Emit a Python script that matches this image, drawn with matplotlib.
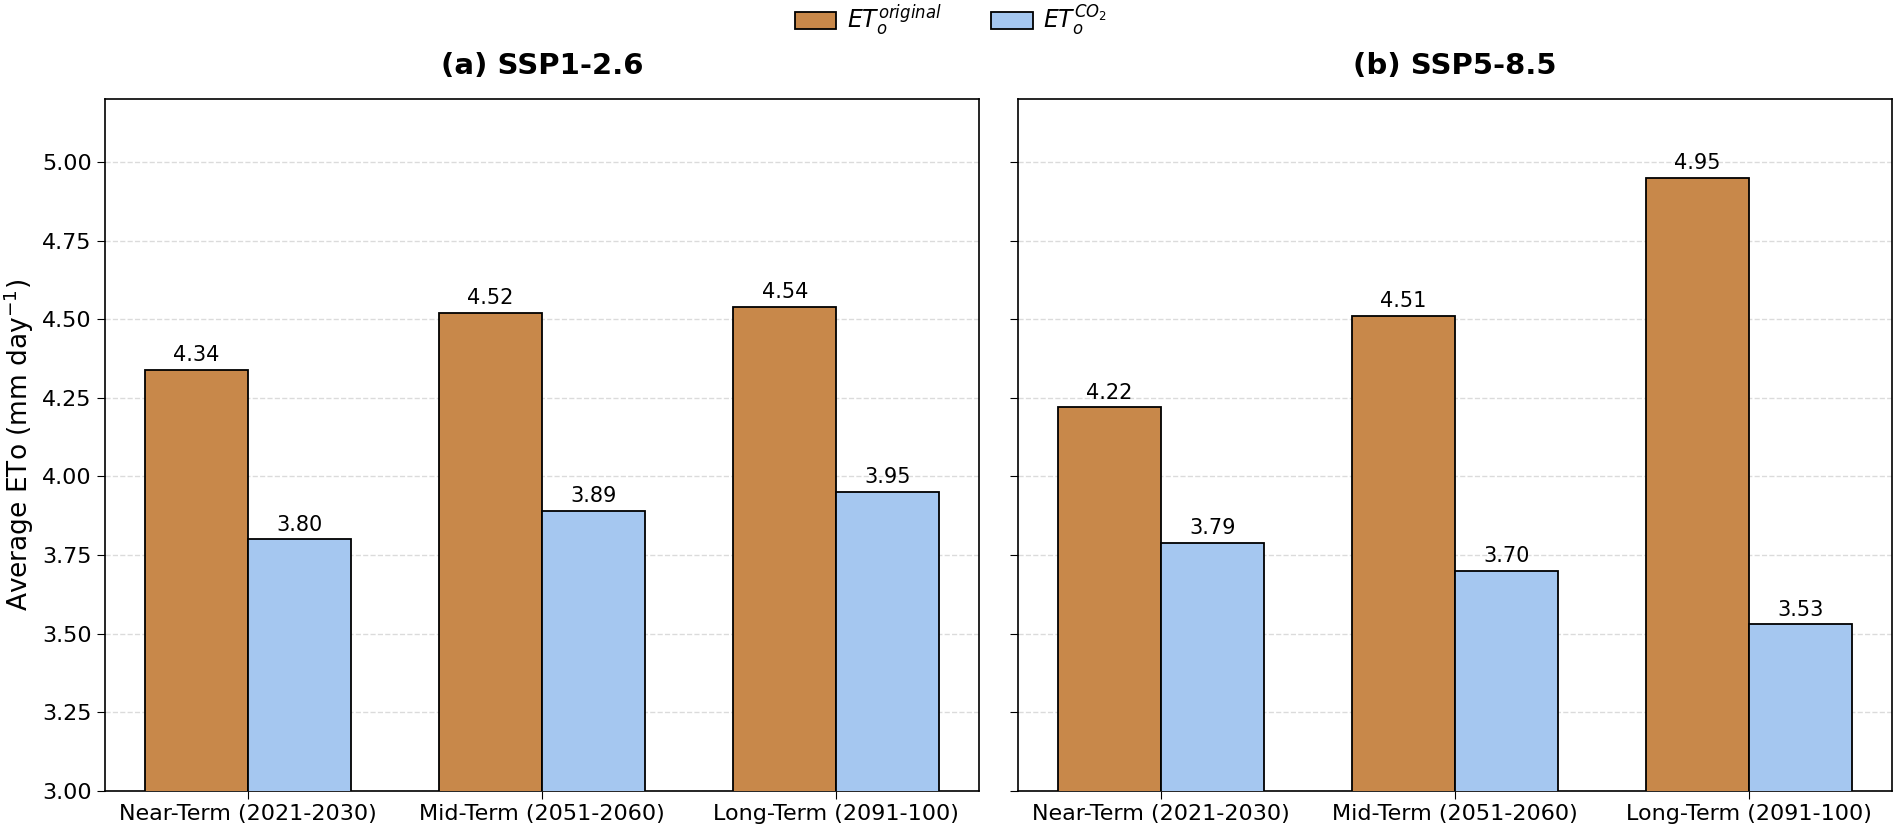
import matplotlib.pyplot as plt
import numpy as np

periods = ['Near-Term (2021-2030)', 'Mid-Term (2051-2060)', 'Long-Term (2091-100)']
titles = ['(a) SSP1-2.6', '(b) SSP5-8.5']
eto_original = [[4.34, 4.52, 4.54], [4.22, 4.51, 4.95]]
eto_co2 = [[3.80, 3.89, 3.95], [3.79, 3.70, 3.53]]

c_orig = '#c8884a'
c_co2 = '#a5c7f0'
width = 0.35

fig = plt.figure(figsize=(19.02, 8.33), dpi=100)
ax1 = fig.add_axes([0.0552, 0.0505, 0.4595, 0.8305])
ax2 = fig.add_axes([0.5352, 0.0505, 0.4595, 0.8305], sharey=ax1)
axs = [ax1, ax2]

x = np.arange(len(periods))
for i, ax in enumerate(axs):
    b1 = ax.bar(x - width / 2, eto_original[i], width, color=c_orig, edgecolor='black',
                linewidth=1.3, label=r'$ET_o^{original}$', zorder=3)
    b2 = ax.bar(x + width / 2, eto_co2[i], width, color=c_co2, edgecolor='black',
                linewidth=1.3, label=r'$ET_o^{CO_2}$', zorder=3)
    for bars in (b1, b2):
        for rect in bars:
            h = rect.get_height()
            ax.text(rect.get_x() + rect.get_width() / 2, h + 0.015, f'{h:.2f}',
                    ha='center', va='bottom', fontsize=15)
    ax.set_title(titles[i], fontsize=21, fontweight='bold', pad=18)
    ax.set_xticks(x)
    ax.set_xticklabels(periods, fontsize=16)
    ax.set_ylim(3.0, 5.2)
    ax.set_yticks(np.arange(3.0, 5.01, 0.25))
    ax.tick_params(axis='y', labelsize=16, length=6)
    ax.tick_params(axis='x', length=6)
    ax.grid(axis='y', linestyle='--', color='#cccccc', alpha=0.7, linewidth=1, zorder=0)
    for s in ax.spines.values():
        s.set_linewidth(1.2)

ax1.set_ylabel(r'Average ETo (mm day$^{-1}$)', fontsize=19)
ax2.tick_params(axis='y', labelleft=False)

handles, labels = ax1.get_legend_handles_labels()
fig.legend(handles, labels, loc='upper center', bbox_to_anchor=(0.5, 1.022), ncol=2,
           frameon=False, fontsize=17, columnspacing=2.1, handlelength=1.75,
           handletextpad=0.45)

plt.savefig('out.png', dpi=100)
